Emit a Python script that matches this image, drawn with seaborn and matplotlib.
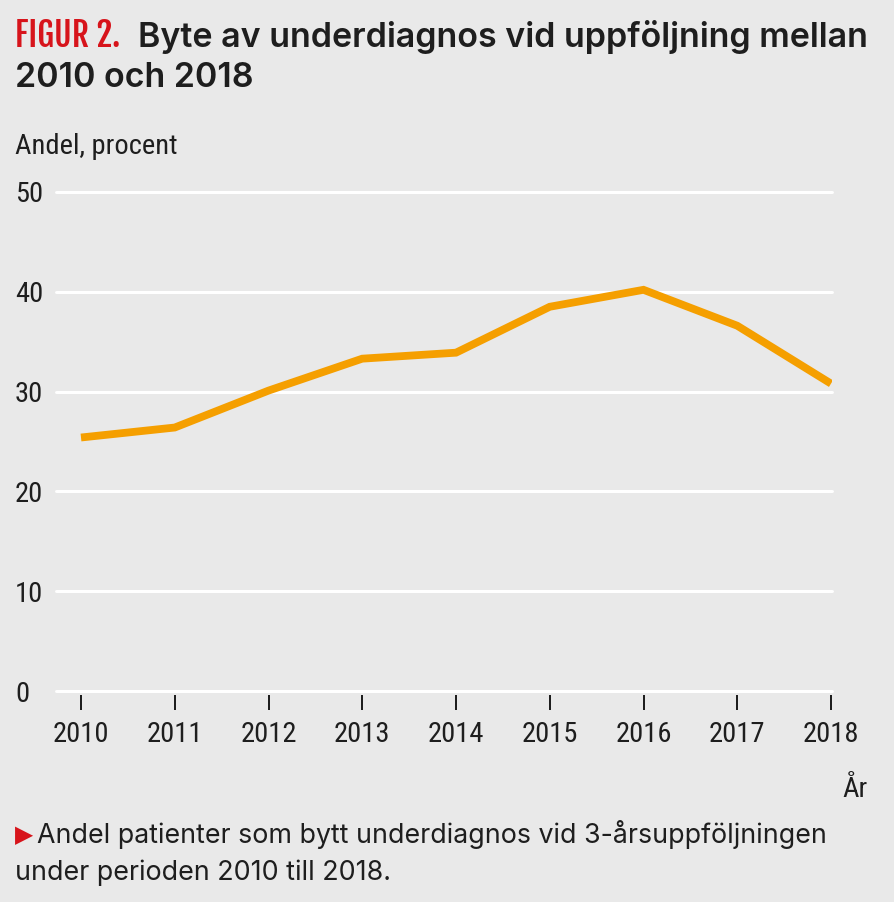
import matplotlib
matplotlib.use("Agg")
import matplotlib.pyplot as plt
import seaborn as sns
import pandas as pd

years = [2010, 2011, 2012, 2013, 2014, 2015, 2016, 2017, 2018]
share = [25.4, 26.4, 30.1, 33.3, 33.9, 38.5, 40.2, 36.6, 30.8]
yticks = [0, 10, 20, 30, 40, 50]

title_tag = "FIGUR 2."
title_text = "Byte av underdiagnos vid uppföljning mellan"
title_line2 = "2010 och 2018"
ylabel = "Andel, procent"
xlabel = "År"
caption1 = "Andel patienter som bytt underdiagnos vid 3-årsuppföljningen"
caption2 = "under perioden 2010 till 2018."

BG = "#e9e9e9"
ORANGE = "#f59f00"
RED = "#d7141b"
DARK = "#1e1e1e"

sns.set_style("white", {"axes.facecolor": BG, "figure.facecolor": BG})
COND = ["Roboto Condensed", "DejaVu Sans"]
TAGF = ["Fjalla One", "Roboto Condensed", "DejaVu Sans"]
TEXTF = ["Inter", "DejaVu Sans"]
plt.rcParams["font.family"] = COND

df = pd.DataFrame({"year": years, "share": share})

W, H = 894, 902
PT = 72 / 100  # points per pixel
fig = plt.figure(figsize=(W / 100, H / 100), dpi=100)
fig.patch.set_facecolor(BG)
renderer = fig.canvas.get_renderer()
left, right, top, bottom = 56, 832, 192, 691
ax = fig.add_axes([left / W, 1 - bottom / H, (right - left) / W, (bottom - top) / H])
ax.set_facecolor(BG)

sns.lineplot(data=df, x="year", y="share", color=ORANGE, linewidth=5.6, ax=ax,
             solid_capstyle="butt", solid_joinstyle="miter", zorder=3)

ax.set_xlim(2010 - 25 * 8 / 750, 2018 + 1 * 8 / 750)
ax.set_ylim(0, 50)
ax.set_xticks(years)
ax.set_xticklabels([str(y) for y in years])
ax.set_yticks(yticks)
ax.set_yticklabels([str(t) for t in yticks])
ax.set_xlabel("")
ax.set_ylabel("")

for s in ax.spines.values():
    s.set_visible(False)
ax.spines["bottom"].set_position(("outward", 4 * PT))

ax.yaxis.grid(True, color="white", linewidth=3 * PT)
ax.xaxis.grid(False)
for gl in ax.get_ygridlines():
    gl.set_clip_on(False)
ax.set_axisbelow(True)

ax.tick_params(axis="x", bottom=True, direction="out", length=15 * PT, width=2 * PT,
               color=DARK, pad=11 * PT, labelsize=20.5, labelcolor=DARK)
ax.tick_params(axis="y", left=False, length=0, pad=41 * PT, labelsize=20.5, labelcolor=DARK)
for lab in ax.get_yticklabels():
    lab.set_horizontalalignment("left")


def fit_text(x_px, y_px, s, width_px, size0=20, **kw):
    t = fig.text(x_px / W, 1 - y_px / H, s, fontsize=size0, va="baseline", **kw)
    w = t.get_window_extent(renderer).width
    t.set_fontsize(size0 * width_px / w)
    return t


fit_text(15, 47, title_tag, 105, color=RED, family=TAGF, ha="left")
fit_text(138, 47, title_text, 732, color=DARK, fontweight="semibold", family=TEXTF, ha="left")
fit_text(15, 87, title_line2, 238, color=DARK, fontweight="semibold", family=TEXTF, ha="left")
fig.text(15 / W, 1 - 154 / H, ylabel, color=DARK, fontsize=20.5, ha="left", va="baseline")
fig.text(868 / W, 1 - 797 / H, xlabel, color=DARK, fontsize=20.5, ha="right", va="baseline")
fig.text(15 / W, 1 - 842 / H, "▶", color=RED, fontsize=17, ha="left", va="baseline",
         family=["DejaVu Sans"])
fit_text(37, 843, caption1, 786, color=DARK, family=TEXTF, ha="left")
fit_text(15, 880, caption2, 375, color=DARK, family=TEXTF, ha="left")

fig.savefig("out.png", dpi=100, facecolor=BG)
